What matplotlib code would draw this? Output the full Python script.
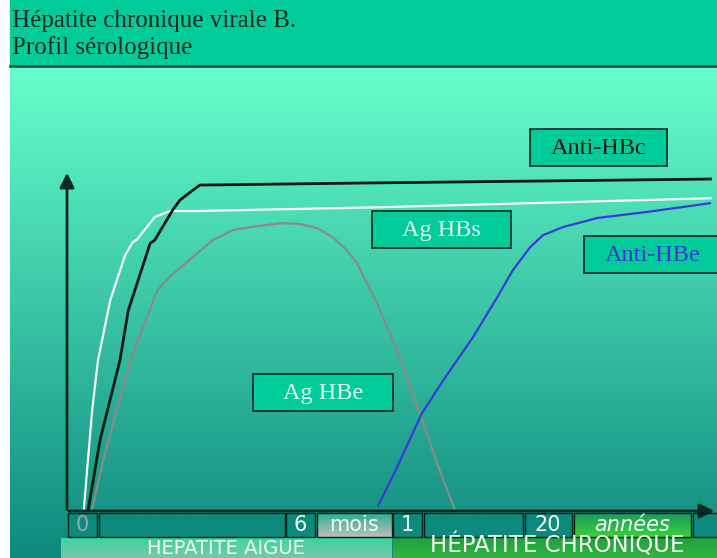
import matplotlib.pyplot as plt
import numpy as np
from matplotlib.colors import to_rgb
from matplotlib.patches import Rectangle

# serological curves, x = time (arbitrary units, 0-100), y = level (0-100)
anti_hbc_x = [3.3, 5.1, 8.2, 9.5, 12.9, 13.6, 16.4, 17.5, 19.1, 20.6, 45.4, 100]
anti_hbc_y = [0.6, 20.9, 44.8, 59.7, 79.7, 80.6, 89.6, 92.5, 94.9, 97.0, 97.6, 98.8]

ag_hbs_x = [2.6, 3.1, 3.9, 4.8, 6.7, 9.0, 10.2, 10.9, 13.6, 16.0, 20.6, 48.5, 100]
ag_hbs_y = [0.0, 11.9, 29.9, 44.8, 62.7, 76.1, 80.0, 80.9, 87.5, 89.3, 89.3, 90.4, 93.1]

ag_hbe_x = [3.9, 5.6, 9.8, 14.0, 16.0, 19.1, 22.6, 25.7, 28.4, 33.5, 36.1, 38.8, 41.2,
            43.4, 45.0, 46.5, 48.1, 49.6, 51.2, 52.7, 54.7, 57.8, 60.2]
ag_hbe_y = [0.6, 14.9, 44.8, 65.7, 69.9, 74.9, 80.6, 83.6, 84.5, 85.7, 85.4, 84.2, 81.5,
            77.6, 73.7, 67.8, 61.8, 54.6, 47.8, 39.7, 29.0, 11.9, 0.0]

anti_hbe_x = [48.2, 50.9, 55.0, 58.3, 62.9, 66.7, 69.1, 71.8, 73.8, 76.9, 82.2, 89.9, 99.7]
anti_hbe_y = [1.5, 11.9, 29.0, 38.8, 51.6, 63.6, 71.6, 78.5, 82.1, 84.5, 87.2, 89.0, 91.6]

title_lines = ["Hépatite chronique virale B.", "Profil sérologique"]
curve_labels = ["Anti-HBc", "Ag HBs", "Anti-HBe", "Ag HBe"]
tick_labels = ["0", "6", "mois", "1", "20", "années"]
phase_labels = ["HEPATITE AIGUE", "HÉPATITE CHRONIQUE"]

W, H = 717, 558
fig = plt.figure(figsize=(W / 100, H / 100), dpi=100)
fig.patch.set_facecolor("white")

serif = ["Liberation Serif", "DejaVu Serif"]
sans = ["DejaVu Sans"]


def pix_axes(rect, z):
    a = fig.add_axes(rect, zorder=z)
    a.set_xlim(0, W)
    a.set_ylim(H, 0)
    a.axis("off")
    a.patch.set_alpha(0)
    return a


def grad_rect(a, x0, y0, x1, y1, c_top, c_bot, edge=None, lw=1.0):
    t = np.linspace(0, 1, 64)[:, None]
    top, bot = np.array(to_rgb(c_top)), np.array(to_rgb(c_bot))
    img = (top * (1 - t) + bot * t)[:, None, :]
    a.imshow(img, extent=(x0, x1, y1, y0), aspect="auto", origin="upper",
             interpolation="bilinear", zorder=2)
    if edge:
        a.add_patch(Rectangle((x0, y0), x1 - x0, y1 - y0, fill=False,
                              edgecolor=edge, lw=lw, zorder=3))


bg = pix_axes([0, 0, 1, 1], 0)
# slide background
grad_rect(bg, 10, 66, W, H, "#66FFCC", "#0E8A7E")
bg.add_patch(Rectangle((10, 0), W - 10, 66, color="#00CC99", zorder=3))
bg.plot([10, W], [66, 66], color="#1A5A48", lw=2, zorder=4)
bg.text(12, 21, title_lines[0], family=serif, fontsize=18, color="#0C2A20",
        va="center", zorder=5)
bg.text(12, 48, title_lines[1], family=serif, fontsize=18, color="#0C2A20",
        va="center", zorder=5)

# curves
ax = fig.add_axes([67 / W, (H - 511) / H, 645 / W, 336 / H], zorder=1)
ax.set_xlim(0, 100)
ax.set_ylim(0, 100)
ax.axis("off")
ax.patch.set_alpha(0)
kw = dict(solid_joinstyle="round", solid_capstyle="round")
ax.plot(ag_hbe_x, ag_hbe_y, color="#8A8A8A", lw=1.6, **kw)
ax.plot(anti_hbe_x, anti_hbe_y, color="#3A3AD8", lw=1.6, **kw)
ax.plot(ag_hbs_x, ag_hbs_y, color="#F4FFF8", lw=1.6, **kw)
ax.plot(anti_hbc_x, anti_hbc_y, color="#0A1A14", lw=2.0, **kw)

fg = pix_axes([0, 0, 1, 1], 2)
axis_col = "#0A2A22"
fg.annotate("", xy=(67, 170), xytext=(67, 512),
            arrowprops=dict(arrowstyle="-|>", lw=2, color=axis_col, mutation_scale=22))
fg.annotate("", xy=(717, 511), xytext=(66, 511),
            arrowprops=dict(arrowstyle="-|>", lw=2, color=axis_col, mutation_scale=22))

# curve label boxes
boxes = [(530, 129, 667, 166, "#0A1A14"),
         (372, 211, 511, 248, "#E0FFF0"),
         (584, 236, 720, 273, "#3A3AD0"),
         (253, 374, 393, 411, "#E0FFF0")]
for (x0, y0, x1, y1, tc), lab in zip(boxes, curve_labels):
    fg.add_patch(Rectangle((x0, y0), x1 - x0, y1 - y0, facecolor="#00CC99",
                           edgecolor="#0A2A22", lw=1.2, zorder=3))
    cx = (x0 + min(x1, W)) / 2 + (2 if x1 > W else 0)
    fg.text(cx, (y0 + y1) / 2 + 1, lab, family=serif, fontsize=17.5, color=tc,
            ha="center", va="center", zorder=4)

# time scale row
dark = "#0E8A7E"
row = [(68, 97, dark, dark), (99, 285, dark, dark), (286, 315, dark, dark),
       (317, 392, "#2AB090", "#BDBDBD"), (393, 422, dark, dark), (424, 523, dark, dark),
       (525, 572, dark, dark), (574, 691, "#1E9A60", "#3AD03A"), (693, 720, dark, dark)]
for x0, x1, ct, cb in row:
    grad_rect(fg, x0, 513, x1, 537, ct, cb, edge="#06221C", lw=1.0)
tick_pos = [82, 300, 354, 407, 548, 632]
tick_cols = ["#9AA6A2", "#F0FFF4", "#F0FFF4", "#F0FFF4", "#F0FFF4", "#F0FFF4"]
for lab, x, c in zip(tick_labels, tick_pos, tick_cols):
    fg.text(x, 525, lab, family=sans, fontsize=15, color=c, ha="center", va="center",
            style="italic" if lab == "années" else "normal", zorder=5)

# phase row
grad_rect(fg, 61, 538, 392, 575, "#38D8A0", "#B4B4B4")
grad_rect(fg, 393, 538, 720, 575, "#22A040", "#3CC83C")
fg.text(226, 539, phase_labels[0], family=sans, fontsize=14, color="#F4FFF4",
        ha="center", va="top", zorder=5)
fg.text(557, 557.5, phase_labels[1], family=sans, fontsize=16.5, color="#F4FFF4",
        ha="center", va="bottom", zorder=5)

fig.savefig("out.png", dpi=100)
